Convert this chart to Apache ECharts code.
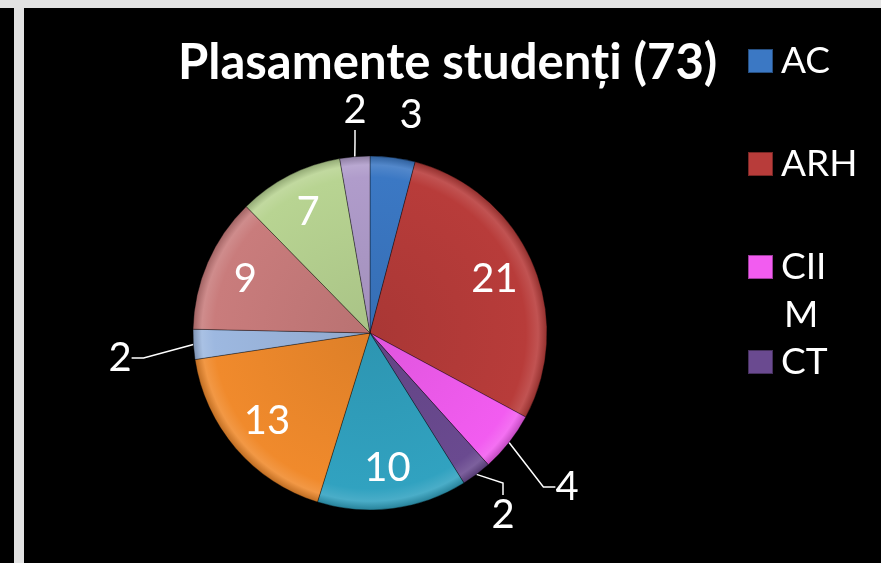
<!DOCTYPE html>
<html>
<head>
<meta charset="utf-8">
<script src="https://cdn.jsdelivr.net/npm/echarts@6/dist/echarts.min.js"></script>
<style>
  html, body { margin: 0; padding: 0; background: #000; }
  #chart { width: 881px; height: 563px; }
</style>
</head>
<body>
<div id="chart"></div>
<script>
  // date
  var categories = ['AC', 'ARH', 'CIIM', 'CT', 'ETTI', 'IE', 'IM', 'IMM', 'INST', 'MEC'];
  var values = [3, 21, 4, 2, 10, 13, 2, 9, 7, 2];
  var colors = ['#3b78c4', '#b83c3a', '#f25cf0', '#6a4a90', '#31a2c0',
                '#f08a2c', '#9db8e0', '#c97c7c', '#b8d492', '#b09ccb'];

  var total = values.reduce(function (a, b) { return a + b; }, 0);
  var FONT = 'Lato';
  var center = [370, 333];
  var R = 177;

  // etichetele mici stau in afara feliei
  var outsideIdx = [0, 2, 3, 6, 9];
  var outsidePos = {
    0: [411, 115],
    2: [567, 487],
    3: [503, 515],
    6: [120, 358],
    9: [355, 110]
  };

  function shade(hex, f) {
    var n = parseInt(hex.slice(1), 16);
    var r = (n >> 16) & 255, g = (n >> 8) & 255, b = n & 255;
    function c(v) {
      v = f > 0 ? v + (255 - v) * f : v * (1 + f);
      return Math.round(Math.max(0, Math.min(255, v)));
    }
    return 'rgb(' + c(r) + ',' + c(g) + ',' + c(b) + ')';
  }

  function bevel(col) {
    return {
      type: 'radial', x: center[0], y: center[1], r: R, global: true,
      colorStops: [
        { offset: 0, color: shade(col, -0.08) },
        { offset: 0.88, color: col },
        { offset: 0.95, color: shade(col, 0.12) },
        { offset: 1, color: shade(col, -0.2) }
      ]
    };
  }

  var myChart = echarts.init(document.getElementById('chart'));

  var mainData = categories.map(function (name, i) {
    var out = outsideIdx.indexOf(i) >= 0;
    return {
      name: name,
      value: values[i],
      itemStyle: { color: bevel(colors[i]) },
      label: { show: out },
      labelLine: { show: out && i !== 0 }
    };
  });

  var innerData = categories.map(function (name, i) {
    return {
      name: name,
      value: values[i],
      label: { show: outsideIdx.indexOf(i) < 0 }
    };
  });

  var legends = [
    { name: 'AC', top: 42 },
    { name: 'ARH', top: 145 },
    { name: 'CIIM', top: 248 },
    { name: 'CT', top: 343 }
  ].map(function (l) {
    var i = categories.indexOf(l.name);
    return {
      data: [{ name: l.name, itemStyle: { color: colors[i] } }],
      left: 747,
      top: l.top,
      orient: 'vertical',
      padding: 0,
      itemWidth: 25,
      itemHeight: 24,
      itemGap: 0,
      icon: 'rect',
      selectedMode: false,
      formatter: function (n) { return n === 'CIIM' ? 'CII' : n; },
      textStyle: { color: '#fff', fontSize: 37, fontFamily: FONT, lineHeight: 38, padding: [0, 0, 0, 3] }
    };
  });

  var option = {
    backgroundColor: '#000',
    animation: false,
    title: {
      text: 'Plasamente studenți (' + total + ')',
      left: 173,
      top: 34,
      textStyle: { color: '#fff', fontSize: 49, fontWeight: 'bold', fontFamily: FONT }
    },
    legend: legends,
    graphic: [
      { type: 'rect', shape: { x: 0, y: 0, width: 881, height: 8 }, style: { fill: '#e3e3e3' } },
      { type: 'rect', shape: { x: 14, y: 8, width: 10, height: 555 }, style: { fill: '#e2e2e2' } },
      { type: 'text', left: 784, top: 297, style: { text: 'M', fill: '#fff', fontSize: 37, fontFamily: FONT } }
    ],
    series: [
      {
        name: 'Plasamente',
        type: 'pie',
        center: center,
        radius: [0, R],
        startAngle: 90,
        clockwise: true,
        avoidLabelOverlap: false,
        data: mainData,
        itemStyle: { borderColor: 'rgba(0,0,0,0.35)', borderWidth: 1 },
        label: {
          position: 'outside',
          color: '#fff',
          fontSize: 40,
          fontFamily: FONT,
          formatter: '{c}'
        },
        labelLine: {
          length: 20,
          length2: 12,
          lineStyle: { color: '#fff', width: 1.5 }
        },
        labelLayout: function (p) {
          var pos = outsidePos[p.dataIndex];
          if (!pos) return {};
          return { x: pos[0], y: pos[1], align: 'center', verticalAlign: 'middle' };
        },
        emphasis: { disabled: true }
      },
      {
        name: 'Etichete',
        type: 'pie',
        center: center,
        radius: [R / 2, R],
        startAngle: 90,
        clockwise: true,
        silent: true,
        data: innerData,
        itemStyle: { color: 'rgba(0,0,0,0)' },
        label: {
          position: 'inside',
          color: '#fff',
          fontSize: 40,
          fontFamily: FONT,
          formatter: '{c}'
        },
        labelLine: { show: false },
        emphasis: { disabled: true }
      }
    ]
  };

  myChart.setOption(option);
</script>
</body>
</html>
